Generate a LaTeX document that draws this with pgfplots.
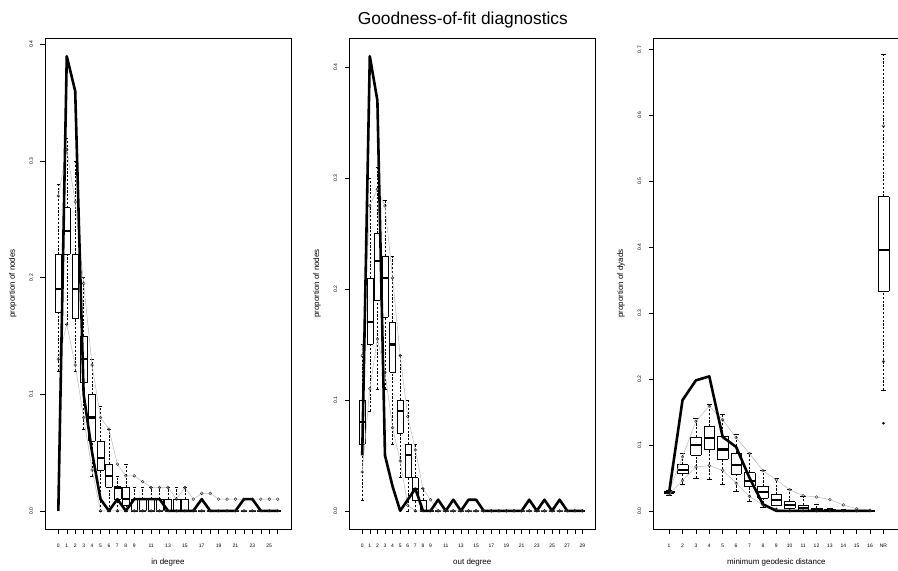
\documentclass[border=0pt]{standalone}
\usepackage{fontspec}
\setmainfont{Liberation Sans}
\usepackage{pgfplots}
\usepackage{pgfplotstable}
\pgfplotsset{compat=1.18}

% in degree: pos lower-whisker lower-quantile q1 median q3 upper-quantile upper-whisker observed
\pgfplotstableread{
pos lw lo q1 med q3 hi uw obs
0 0.12 0.13 0.17 0.19 0.22 0.27 0.28 0.00
1 0.16 0.16 0.22 0.24 0.26 0.31 0.32 0.39
2 0.12 0.125 0.165 0.19 0.22 0.265 0.30 0.36
3 0.07 0.08 0.11 0.13 0.15 0.195 0.20 0.10
4 0.03 0.035 0.06 0.08 0.10 0.125 0.13 0.05
5 0.00 0.00 0.035 0.045 0.06 0.08 0.09 0.01
6 0.00 0.00 0.02 0.03 0.04 0.07 0.07 0.00
7 0.00 0.00 0.01 0.02 0.02 0.04 0.03 0.01
8 0.00 0.00 0.005 0.01 0.02 0.03 0.04 0.00
9 0.00 0.00 0.00 0.00 0.01 0.03 0.02 0.01
10 0.00 0.00 0.00 0.00 0.01 0.025 0.02 0.01
11 0.00 0.00 0.00 0.00 0.01 0.02 0.02 0.01
12 0.00 0.00 0.00 0.00 0.01 0.02 0.02 0.01
13 0.00 0.00 0.00 0.00 0.01 0.02 0.02 0.00
14 0.00 0.00 0.00 0.00 0.01 0.01 0.02 0.00
15 0.00 0.00 0.00 0.00 0.01 0.02 0.02 0.00
16 0.00 0.00 0.00 0.00 0.00 0.01 0.00 0.00
17 0.00 0.00 0.00 0.00 0.00 0.015 0.00 0.01
18 0.00 0.00 0.00 0.00 0.00 0.015 0.00 0.00
19 0.00 0.00 0.00 0.00 0.00 0.01 0.00 0.00
20 0.00 0.00 0.00 0.00 0.00 0.01 0.00 0.00
21 0.00 0.00 0.00 0.00 0.00 0.01 0.00 0.00
22 0.00 0.00 0.00 0.00 0.00 0.01 0.00 0.01
23 0.00 0.00 0.00 0.00 0.00 0.01 0.00 0.01
24 0.00 0.00 0.00 0.00 0.00 0.01 0.00 0.00
25 0.00 0.00 0.00 0.00 0.00 0.01 0.00 0.00
26 0.00 0.00 0.00 0.00 0.00 0.01 0.00 0.00
}\indeg

% out degree
\pgfplotstableread{
pos lw lo q1 med q3 hi uw obs
0 0.01 0.035 0.06 0.08 0.10 0.14 0.15 0.05
1 0.09 0.11 0.15 0.17 0.21 0.275 0.30 0.41
2 0.11 0.155 0.19 0.225 0.25 0.29 0.31 0.37
3 0.11 0.125 0.175 0.21 0.23 0.275 0.28 0.05
4 0.06 0.075 0.125 0.15 0.17 0.21 0.23 0.022
5 0.03 0.045 0.07 0.09 0.10 0.14 0.14 0.00
6 0.00 0.005 0.03 0.05 0.06 0.085 0.10 0.01
7 0.00 0.00 0.01 0.02 0.03 0.055 0.06 0.02
8 0.00 0.00 0.00 0.00 0.01 0.02 0.02 0.00
9 0.00 0.00 0.00 0.00 0.00 0.01 0.00 0.00
10 0.00 0.00 0.00 0.00 0.00 0.00 0.00 0.01
11 0.00 0.00 0.00 0.00 0.00 0.00 0.00 0.00
12 0.00 0.00 0.00 0.00 0.00 0.00 0.00 0.01
13 0.00 0.00 0.00 0.00 0.00 0.00 0.00 0.00
14 0.00 0.00 0.00 0.00 0.00 0.00 0.00 0.01
15 0.00 0.00 0.00 0.00 0.00 0.00 0.00 0.01
16 0.00 0.00 0.00 0.00 0.00 0.00 0.00 0.00
17 0.00 0.00 0.00 0.00 0.00 0.00 0.00 0.00
18 0.00 0.00 0.00 0.00 0.00 0.00 0.00 0.00
19 0.00 0.00 0.00 0.00 0.00 0.00 0.00 0.00
20 0.00 0.00 0.00 0.00 0.00 0.00 0.00 0.00
21 0.00 0.00 0.00 0.00 0.00 0.00 0.00 0.00
22 0.00 0.00 0.00 0.00 0.00 0.00 0.00 0.01
23 0.00 0.00 0.00 0.00 0.00 0.00 0.00 0.00
24 0.00 0.00 0.00 0.00 0.00 0.00 0.00 0.01
25 0.00 0.00 0.00 0.00 0.00 0.00 0.00 0.00
26 0.00 0.00 0.00 0.00 0.00 0.00 0.00 0.01
27 0.00 0.00 0.00 0.00 0.00 0.00 0.00 0.00
28 0.00 0.00 0.00 0.00 0.00 0.00 0.00 0.00
29 0.00 0.00 0.00 0.00 0.00 0.00 0.00 0.00
}\outdeg

% minimum geodesic distance (1..16)
\pgfplotstableread{
pos lw lo q1 med q3 hi uw obs
1 0.024 0.025 0.0265 0.028 0.0295 0.030 0.031 0.028
2 0.041 0.046 0.0564 0.0625 0.070 0.082 0.088 0.168
3 0.050 0.0666 0.085 0.100 0.112 0.136 0.140 0.198
4 0.048 0.0686 0.093 0.110 0.128 0.159 0.162 0.204
5 0.040 0.0615 0.079 0.093 0.113 0.138 0.147 0.112
6 0.0295 0.042 0.056 0.070 0.087 0.111 0.116 0.097
7 0.015 0.022 0.037 0.0458 0.058 0.087 0.088 0.050
8 0.0056 0.009 0.019 0.0285 0.037 0.061 0.0615 0.010
9 0.001 0.0025 0.009 0.0168 0.025 0.047 0.050 0.000
10 0.000 0.000 0.004 0.009 0.014 0.032 0.033 0.000
11 0.000 0.000 0.0015 0.0046 0.0086 0.023 0.022 0.000
12 0.000 0.000 0.000 0.002 0.0045 0.021 0.010 0.000
13 0.000 0.000 0.000 0.001 0.002 0.017 0.004 0.000
14 0.000 0.000 0.000 0.000 0.001 0.009 0.002 0.000
15 0.000 0.000 0.000 0.000 0.000 0.003 0.000 0.000
16 0.000 0.000 0.000 0.000 0.000 0.001 0.000 0.000
}\geo

% NR (not reachable) column
\pgfplotstableread{
pos lw lo q1 med q3 hi uw obs
17 0.183 0.2267 0.3335 0.396 0.477 0.584 0.6925 0.133
}\geonr

\pgfplotsset{
  gofaxis/.style={
    scale only axis, width=246bp, height=491bp,
    tick pos=left, tick align=outside, major tick length=4.5bp,
    axis line style={line width=0.6bp},
    every tick/.append style={black, line width=0.5bp},
    tick label style={font=\fontsize{5}{6}\selectfont},
    label style={font=\fontsize{8}{9.6}\selectfont},
    yticklabel style={rotate=90, anchor=south},
    xticklabel shift=7.5bp, yticklabel shift=4bp,
    xlabel style={at={(axis description cs:0.5,-0.0686)}, anchor=center},
    ylabel style={at={(axis description cs:-0.131,0.5)}, anchor=center},
    /pgf/number format/assume math mode=true,
  },
  bx/.style={black, line width=0.45bp, solid},
  wh/.style={black, line width=0.5bp, dash pattern=on 2.2bp off 1.6bp},
  md/.style={black, line width=2.2bp},
  gline/.style={gray!55, line width=0.5bp, mark=o, mark size=1.4bp,
    mark options={solid, gray!30!black, line width=0.4bp}},
  obsline/.style={black, line width=2.6bp, line join=round},
}

% boxes, medians, dashed whiskers and staples from a table
\newcommand{\gofboxes}[1]{%
  \addplot[wh, quiver={u=0, v=\thisrow{q1}-\thisrow{lw}}] table[x=pos, y=lw] {#1};
  \addplot[wh, quiver={u=0, v=\thisrow{uw}-\thisrow{q3}}] table[x=pos, y=q3] {#1};
  \addplot[bx, quiver={u=0.4, v=0}] table[x expr=\thisrow{pos}-0.2, y=lw] {#1};
  \addplot[bx, quiver={u=0.4, v=0}] table[x expr=\thisrow{pos}-0.2, y=uw] {#1};
  \addplot[bx, quiver={u=0.8, v=0}] table[x expr=\thisrow{pos}-0.4, y=q1] {#1};
  \addplot[bx, quiver={u=0.8, v=0}] table[x expr=\thisrow{pos}-0.4, y=q3] {#1};
  \addplot[bx, quiver={u=0, v=\thisrow{q3}-\thisrow{q1}}] table[x expr=\thisrow{pos}-0.4, y=q1] {#1};
  \addplot[bx, quiver={u=0, v=\thisrow{q3}-\thisrow{q1}}] table[x expr=\thisrow{pos}+0.4, y=q1] {#1};
  \addplot[md, quiver={u=0.8, v=0}] table[x expr=\thisrow{pos}-0.4, y=med] {#1};
}

\begin{document}
\begin{tikzpicture}
\useasboundingbox (0,0) rectangle (898bp,571bp);
\node[font=\fontsize{17.4}{20}\selectfont, anchor=base] at (462.8bp,546bp) {Goodness-of-fit diagnostics};

% ---------------- in degree ----------------
\begin{axis}[gofaxis, at={(45bp,42bp)}, anchor=south west,
  xmin=-1.58, xmax=27.58, ymin=-0.0156, ymax=0.4056,
  xtick={0,...,26},
  xticklabels={0,1,2,3,4,5,6,7,8,9,{},11,{},13,{},15,{},17,{},19,{},21,{},23,{},25,{}},
  ytick={0,0.1,0.2,0.3,0.4}, yticklabels={0.0,0.1,0.2,0.3,0.4},
  xlabel={in degree}, ylabel={proportion of nodes}]
\gofboxes{\indeg}
\addplot[gline] table[x=pos, y=lo] {\indeg};
\addplot[gline] table[x=pos, y=hi] {\indeg};
\addplot[obsline] table[x=pos, y=obs] {\indeg};
\end{axis}

% ---------------- out degree ----------------
\begin{axis}[gofaxis, at={(349.3bp,42bp)}, anchor=south west,
  xmin=-1.7, xmax=30.7, ymin=-0.0164, ymax=0.4264,
  xtick={0,...,29},
  xticklabels={0,1,2,3,4,5,6,7,8,9,{},11,{},13,{},15,{},17,{},19,{},21,{},23,{},25,{},27,{},29},
  ytick={0,0.1,0.2,0.3,0.4}, yticklabels={0.0,0.1,0.2,0.3,0.4},
  xlabel={out degree}, ylabel={proportion of nodes}]
\gofboxes{\outdeg}
\addplot[gline] table[x=pos, y=lo] {\outdeg};
\addplot[gline] table[x=pos, y=hi] {\outdeg};
\addplot[obsline] table[x=pos, y=obs] {\outdeg};
\end{axis}

% ---------------- geodesic distance ----------------
\begin{axis}[gofaxis, at={(653.3bp,42bp)}, anchor=south west,
  xmin=-0.18, xmax=18.18, ymin=-0.0276, ymax=0.7176,
  xtick={1,...,17},
  xticklabels={1,2,3,4,5,6,7,8,9,10,11,12,13,14,15,16,NR},
  ytick={0,0.1,0.2,0.3,0.4,0.5,0.6,0.7},
  yticklabels={0.0,0.1,0.2,0.3,0.4,0.5,0.6,0.7},
  xlabel={minimum geodesic distance}, ylabel={proportion of dyads}]
\gofboxes{\geo}
\gofboxes{\geonr}
\addplot[gline] table[x=pos, y=lo] {\geo};
\addplot[gline] table[x=pos, y=hi] {\geo};
\addplot[gline, only marks] table[x=pos, y=lo] {\geonr};
\addplot[gline, only marks] table[x=pos, y=hi] {\geonr};
\addplot[obsline] table[x=pos, y=obs] {\geo};
\addplot[only marks, mark=*, mark size=1.1bp, black] table[x=pos, y=obs] {\geonr};
\end{axis}
\end{tikzpicture}
\end{document}
